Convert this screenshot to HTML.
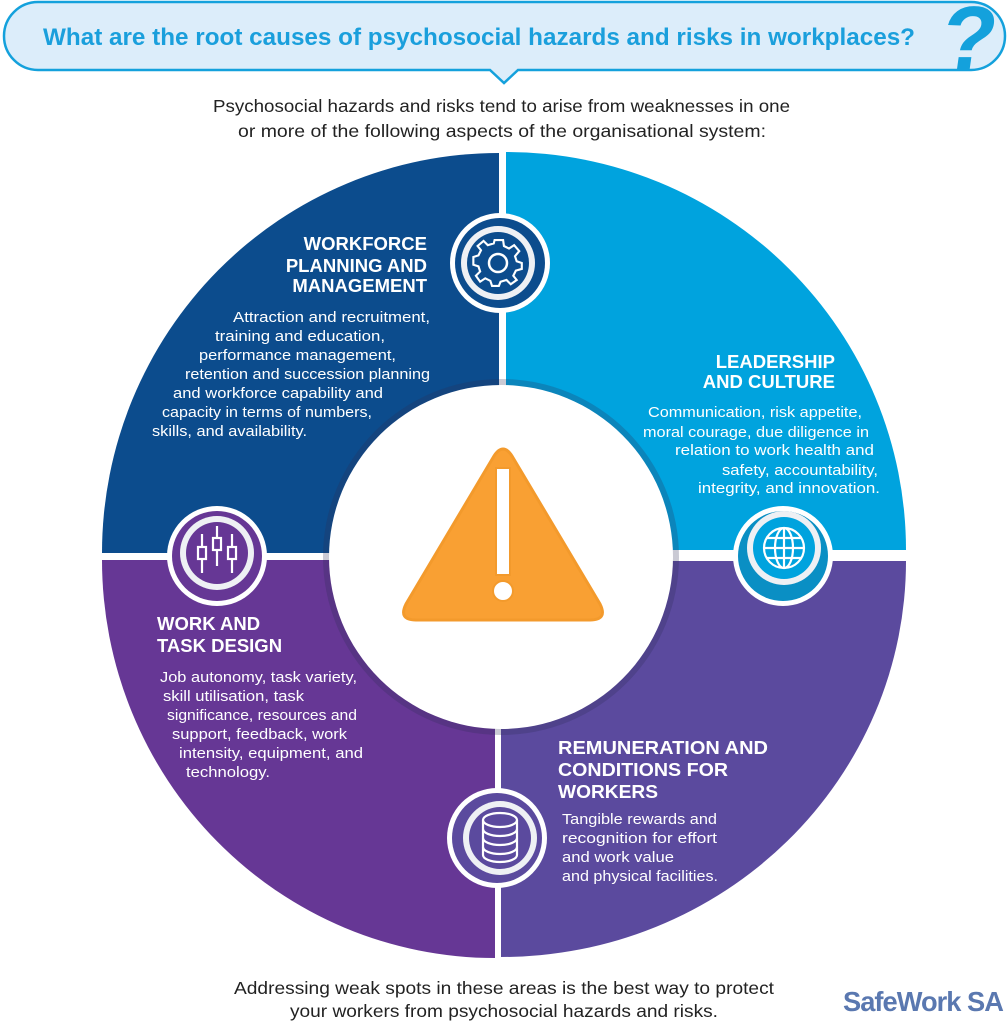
<!DOCTYPE html>
<html><head><meta charset="utf-8">
<style>
html,body{margin:0;padding:0;background:#fff;}
svg{display:block;}
text{font-family:"Liberation Sans",sans-serif;}
.t{fill:#fff;font-weight:bold;font-size:18.5px;}
.b{fill:#fff;font-size:15px;}
</style></head>
<body>
<svg width="1007" height="1024" viewBox="0 0 1007 1024" xmlns="http://www.w3.org/2000/svg">
<defs>
<clipPath id="bub"><path d="M38,2 H971 A34,34 0 0 1 971,70 H38 A34,34 0 0 1 38,2 Z"/></clipPath>
</defs>
<!-- header bubble -->
<path d="M38,2 H971 A34,34 0 0 1 971,70 H518 L504,83 L490,70 H38 A34,34 0 0 1 38,2 Z" fill="#dcedfa" stroke="#14a1dc" stroke-width="2.5"/>
<text x="43" y="45" textLength="872" lengthAdjust="spacingAndGlyphs" font-weight="bold" font-size="24" fill="#1a9fdc">What are the root causes of psychosocial hazards and risks in workplaces?</text>
<g clip-path="url(#bub)">
<text x="966" y="69" text-anchor="middle" font-weight="bold" font-size="90" fill="#14a1dc" transform="skewX(-8) translate(9 0)">?</text>
</g>

<text x="213" y="112" textLength="577" lengthAdjust="spacingAndGlyphs" font-size="17.5" fill="#222">Psychosocial hazards and risks tend to arise from weaknesses in one</text>
<text x="238" y="137" textLength="528" lengthAdjust="spacingAndGlyphs" font-size="17.5" fill="#222">or more of the following aspects of the organisational system:</text>

<!-- quadrants -->
<path d="M499,553 L102,553 A397,400 0 0 1 499,153 Z" fill="#0c4c8d"/>
<path d="M506,550 L906,550 A400,398 0 0 0 506,152 Z" fill="#00a3de"/>
<path d="M495,560 L102,560 A393,398 0 0 0 495,958 Z" fill="#663795"/>
<path d="M501,561 L906,561 A405,396 0 0 1 501,957 Z" fill="#5b4a9e"/>
<circle cx="501" cy="557" r="178" fill="#2a2a55" opacity="0.25"/>
<circle cx="501" cy="557" r="172" fill="#fff"/>

<!-- gear -->
<circle cx="500" cy="263" r="50" fill="#fff"/>
<circle cx="500" cy="263" r="45" fill="#0c4c8d"/>
<circle cx="498" cy="263" r="37" fill="#eef0f4"/>
<circle cx="498" cy="263" r="31" fill="#0c4c8d"/>
<g transform="translate(498 263)" fill="none" stroke="#fff" stroke-width="2.5">
<path d="M-5,-24 H5 L6,-17 L12,-14 L18,-18 L24,-11 L19,-5 L21,1 L27,3 V10 L20,12 L17,18 L21,23 L14,28 L9,23 L2,25 L0,30 H-8 L-10,24 L-16,21 L-22,25 L-27,18 L-22,13 L-24,7 L-30,5 V-4 L-24,-6 L-21,-12 L-25,-17 L-18,-23 L-13,-18 L-6,-20 Z" transform="scale(0.85) translate(1 -3)"/>
<circle cx="0" cy="0" r="9"/>
</g>
<!-- sliders -->
<circle cx="217" cy="556" r="50" fill="#fff"/>
<circle cx="217" cy="556" r="45" fill="#663795"/>
<circle cx="217" cy="553" r="37" fill="#eef0f4"/>
<circle cx="217" cy="553" r="31" fill="#663795"/>
<g fill="none" stroke="#fff" stroke-width="2.2">
<line x1="202" y1="534" x2="202" y2="573"/><rect x="198" y="547" width="8" height="12" fill="#663795"/>
<line x1="217" y1="526" x2="217" y2="566"/><rect x="213" y="538" width="8" height="12" fill="#663795"/>
<line x1="232" y1="534" x2="232" y2="573"/><rect x="228" y="547" width="8" height="12" fill="#663795"/>
</g>
<!-- globe -->
<circle cx="783" cy="556" r="50" fill="#fff"/>
<circle cx="783" cy="556" r="45" fill="#0a8fc4"/>
<circle cx="784" cy="548" r="37" fill="#eef0f4"/>
<circle cx="784" cy="548" r="31" fill="#00a3de"/>
<g fill="none" stroke="#fff" stroke-width="2.2">
<circle cx="784" cy="548" r="20"/>
<ellipse cx="784" cy="548" rx="9" ry="20"/>
<line x1="784" y1="528" x2="784" y2="568"/>
<line x1="764" y1="548" x2="804" y2="548"/>
<line x1="767" y1="538" x2="801" y2="538"/>
<line x1="767" y1="558" x2="801" y2="558"/>
</g>
<!-- coins -->
<circle cx="497" cy="838" r="50" fill="#fff"/>
<circle cx="497" cy="838" r="45" fill="#5b4a9e"/>
<circle cx="500" cy="838" r="37" fill="#eef0f4"/>
<circle cx="500" cy="838" r="31" fill="#5b4a9e"/>
<g fill="none" stroke="#fff" stroke-width="2.2">
<ellipse cx="500" cy="820" rx="17" ry="7"/>
<path d="M483,820 V855 A17,7 0 0 0 517,855 V820"/>
<path d="M483,829 A17,7 0 0 0 517,829"/>
<path d="M483,838 A17,7 0 0 0 517,838"/>
<path d="M483,847 A17,7 0 0 0 517,847"/>
</g>

<!-- warning triangle -->
<path d="M494,456 Q503,442 512,456 L600,604 Q608,620 590,620 H416 Q398,620 406,604 Z" fill="#f9a033" stroke="#f39a2c" stroke-width="3"/>
<rect x="496" y="468" width="14" height="107" fill="#fff" stroke="#f39a2c" stroke-width="2"/>
<circle cx="503" cy="591" r="10" fill="#fff" stroke="#f39a2c" stroke-width="2"/>

<!-- Workforce -->
<text class="t" x="427" y="250" text-anchor="end">WORKFORCE</text>
<text class="t" x="427" y="272" text-anchor="end">PLANNING AND</text>
<text class="t" x="427" y="292" text-anchor="end">MANAGEMENT</text>
<text class="b" x="233" y="322" textLength="197" lengthAdjust="spacingAndGlyphs">Attraction and recruitment,</text>
<text class="b" x="215" y="341" textLength="170" lengthAdjust="spacingAndGlyphs">training and education,</text>
<text class="b" x="199" y="360" textLength="197" lengthAdjust="spacingAndGlyphs">performance management,</text>
<text class="b" x="185" y="379" textLength="245" lengthAdjust="spacingAndGlyphs">retention and succession planning</text>
<text class="b" x="173" y="398" textLength="210" lengthAdjust="spacingAndGlyphs">and workforce capability and</text>
<text class="b" x="162" y="417" textLength="210" lengthAdjust="spacingAndGlyphs">capacity in terms of numbers,</text>
<text class="b" x="152" y="436" textLength="155" lengthAdjust="spacingAndGlyphs">skills, and availability.</text>

<!-- Leadership -->
<text class="t" x="835" y="368" text-anchor="end">LEADERSHIP</text>
<text class="t" x="835" y="388" text-anchor="end">AND CULTURE</text>
<text class="b" x="648" y="417" textLength="214" lengthAdjust="spacingAndGlyphs">Communication, risk appetite,</text>
<text class="b" x="643" y="437" textLength="226" lengthAdjust="spacingAndGlyphs">moral courage, due diligence in</text>
<text class="b" x="675" y="455" textLength="199" lengthAdjust="spacingAndGlyphs">relation to work health and</text>
<text class="b" x="722" y="475" textLength="156" lengthAdjust="spacingAndGlyphs">safety, accountability,</text>
<text class="b" x="698" y="493" textLength="182" lengthAdjust="spacingAndGlyphs">integrity, and innovation.</text>

<!-- Work and task design -->
<text class="t" x="157" y="630">WORK AND</text>
<text class="t" x="157" y="652">TASK DESIGN</text>
<text class="b" x="160" y="682" textLength="197" lengthAdjust="spacingAndGlyphs">Job autonomy, task variety,</text>
<text class="b" x="163" y="701" textLength="141" lengthAdjust="spacingAndGlyphs">skill utilisation, task</text>
<text class="b" x="167" y="720" textLength="190" lengthAdjust="spacingAndGlyphs">significance, resources and</text>
<text class="b" x="172" y="739" textLength="175" lengthAdjust="spacingAndGlyphs">support, feedback, work</text>
<text class="b" x="179" y="758" textLength="184" lengthAdjust="spacingAndGlyphs">intensity, equipment, and</text>
<text class="b" x="186" y="777" textLength="84" lengthAdjust="spacingAndGlyphs">technology.</text>

<!-- Remuneration -->
<text class="t" x="558" y="754" textLength="210" lengthAdjust="spacingAndGlyphs">REMUNERATION AND</text>
<text class="t" x="558" y="776" textLength="170" lengthAdjust="spacingAndGlyphs">CONDITIONS FOR</text>
<text class="t" x="558" y="798" textLength="100" lengthAdjust="spacingAndGlyphs">WORKERS</text>
<text class="b" x="562" y="824" textLength="155" lengthAdjust="spacingAndGlyphs">Tangible rewards and</text>
<text class="b" x="562" y="843" textLength="155" lengthAdjust="spacingAndGlyphs">recognition for effort</text>
<text class="b" x="562" y="862" textLength="112" lengthAdjust="spacingAndGlyphs">and work value</text>
<text class="b" x="562" y="881" textLength="156" lengthAdjust="spacingAndGlyphs">and physical facilities.</text>

<!-- footer -->
<text x="234" y="994" textLength="540" lengthAdjust="spacingAndGlyphs" font-size="17.5" fill="#222">Addressing weak spots in these areas is the best way to protect</text>
<text x="290" y="1017" textLength="428" lengthAdjust="spacingAndGlyphs" font-size="17.5" fill="#222">your workers from psychosocial hazards and risks.</text>
<text x="843" y="1011" textLength="160" lengthAdjust="spacingAndGlyphs" font-size="28" font-weight="bold" fill="#5a78b0" letter-spacing="-1">SafeWork SA</text>
</svg>
</body></html>
